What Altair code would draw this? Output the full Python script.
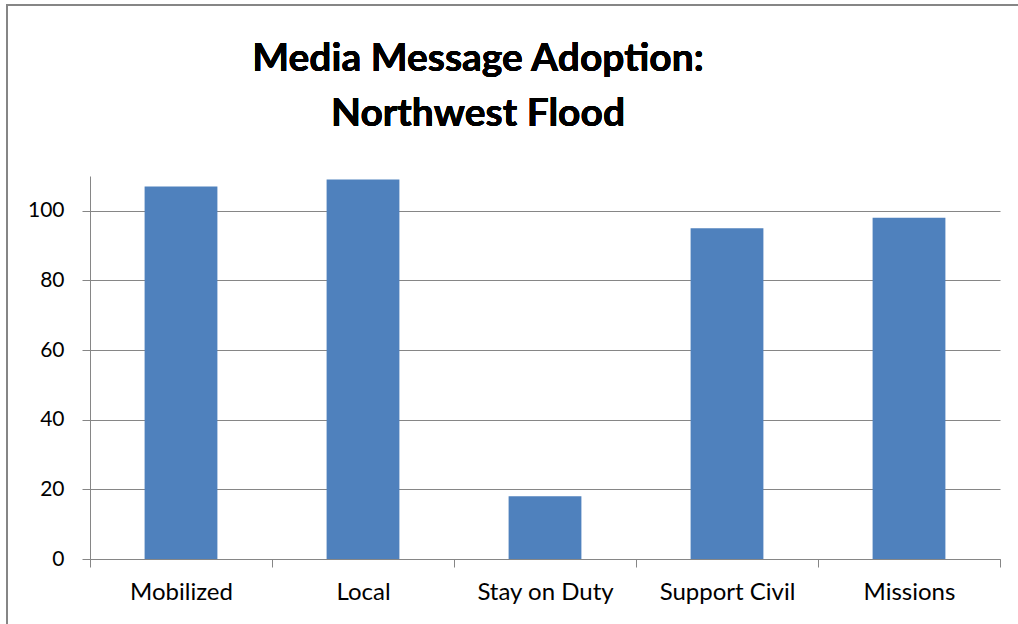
import altair as alt
import pandas as pd

# Media message adoption counts by message category
categories = ["Mobilized", "Local", "Stay on Duty", "Support Civil", "Missions"]
values = [107, 109, 18, 95, 98]
y_ticks = [0, 20, 40, 60, 80, 100]
title_lines = ["Media Message Adoption:", "Northwest Flood"]

df = pd.DataFrame({"category": categories, "count": values})

FONT = "Lato"
GRID = "#868686"
BAR = "#4F81BD"

bars = alt.Chart(df).mark_bar(color=BAR, width={"band": 0.4}).encode(
    x=alt.X(
        "category:N",
        sort=categories,
        title=None,
        scale=alt.Scale(paddingInner=0, paddingOuter=0),
        axis=alt.Axis(
            labelAngle=0,
            tickBand="extent",
            tickSize=8,
            tickColor=GRID,
            domainColor=GRID,
            labelFontSize=24,
            labelColor="black",
            labelPadding=13,
            labelFont=FONT,
            grid=False,
        ),
    ),
    y=alt.Y(
        "count:Q",
        title=None,
        scale=alt.Scale(domain=[0, 110], nice=False),
        axis=alt.Axis(
            values=y_ticks,
            tickSize=8,
            tickColor=GRID,
            domainColor=GRID,
            gridColor=GRID,
            gridWidth=1.2,
            labelFontSize=21,
            labelColor="black",
            labelPadding=18,
            labelFont=FONT,
        ),
    ),
)

# outer chart frame
frame = alt.Chart(df).mark_rect(
    filled=False, stroke=GRID, strokeWidth=1.5, clip=False
).encode(
    x=alt.value(-83),
    x2=alt.value(940),
    y=alt.value(-171),
    y2=alt.value(470),
)

# two-line bold heading above the plot
heading = alt.Chart(df).mark_text(
    text=title_lines,
    font=FONT,
    fontSize=39,
    fontWeight="bold",
    color="black",
    align="center",
    baseline="alphabetic",
    lineHeight=55,
).encode(
    x=alt.value(388),
    y=alt.value(-105),
)

chart = (
    alt.layer(frame, bars, heading)
    .properties(
        width=910,
        height=383,
        background="white",
        autosize=alt.AutoSizeParams(type="none"),
        padding={"left": 90, "top": 176, "right": 18, "bottom": 65},
    )
    .configure_view(strokeWidth=0, stroke="transparent")
)

chart.save("out.html", embed_options={"renderer": "svg", "actions": False})
